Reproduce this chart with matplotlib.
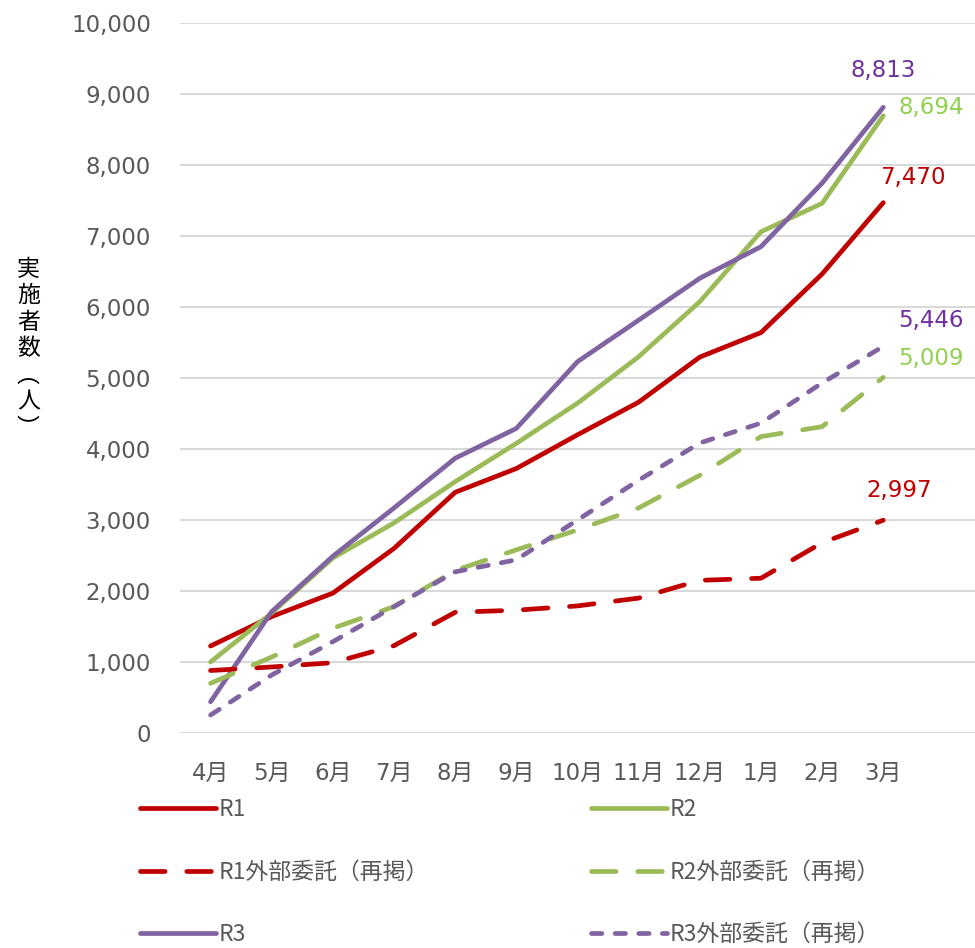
import matplotlib
matplotlib.use("Agg")
import matplotlib.pyplot as plt
from matplotlib.ticker import FuncFormatter

plt.rcParams['font.family'] = ['DejaVu Sans', 'Noto Sans CJK JP']

# 月別の累計実施者数
months = ["4月", "5月", "6月", "7月", "8月", "9月", "10月", "11月", "12月", "1月", "2月", "3月"]
r1 = [1225, 1640, 1970, 2600, 3390, 3725, 4200, 4660, 5295, 5640, 6465, 7470]
r2 = [1000, 1690, 2465, 2960, 3540, 4080, 4645, 5300, 6075, 7060, 7460, 8694]
r3 = [440, 1710, 2490, 3170, 3870, 4290, 5230, 5815, 6405, 6850, 7745, 8813]
r1_ext = [880, 930, 990, 1230, 1700, 1730, 1790, 1900, 2150, 2180, 2680, 2997]
r2_ext = [700, 1070, 1475, 1780, 2290, 2580, 2860, 3170, 3630, 4175, 4315, 5009]
r3_ext = [253, 817, 1286, 1780, 2270, 2440, 3000, 3560, 4085, 4365, 4930, 5446]

RED = '#C00000'
GREEN = '#9BBB59'
PURPLE = '#8064A2'

fig = plt.figure(figsize=(9.75, 9.48), dpi=100)
ax = fig.add_axes([0.1846, 0.2268, 1 - 0.1846, 0.9757 - 0.2268])

x = list(range(len(months)))
lw = 3.4
h_r1, = ax.plot(x, r1, color=RED, lw=lw, solid_capstyle='round', label='R1')
h_r2, = ax.plot(x, r2, color=GREEN, lw=lw, solid_capstyle='round', label='R2')
h_r3, = ax.plot(x, r3, color=PURPLE, lw=lw, solid_capstyle='round', label='R3')
h_r1e, = ax.plot(x, r1_ext, color=RED, lw=lw, dashes=(5.2, 4.6), dash_capstyle='round',
                 label='R1外部委託（再掲）')
h_r2e, = ax.plot(x, r2_ext, color=GREEN, lw=lw, dashes=(5.2, 4.6), dash_capstyle='round',
                 label='R2外部委託（再掲）')
h_r3e, = ax.plot(x, r3_ext, color=PURPLE, lw=lw, dashes=(2.2, 2.8), dash_capstyle='round',
                 label='R3外部委託（再掲）')

# end-of-line data labels
last = len(months) - 1
labels = [
    (r3, '#7030A0', (0, 37)),
    (r2, '#92D050', (48, 8)),
    (r1, RED, (30, 25)),
    (r3_ext, '#7030A0', (48, 26)),
    (r2_ext, '#92D050', (48, 19)),
    (r1_ext, RED, (16, 30)),
]
for series, col, off in labels:
    ax.annotate(f"{series[last]:,}", (last, series[last]), xytext=off,
                textcoords='offset pixels', ha='center', va='center',
                color=col, fontsize=16.5)

ax.set_xlim(-0.5, 12.5)
ax.set_ylim(0, 10000)
ax.set_yticks(range(0, 10001, 1000))
ax.yaxis.set_major_formatter(FuncFormatter(lambda v, p: f"{int(v):,}"))
ax.set_xticks(x)
ax.set_xticklabels(months)
ax.tick_params(axis='both', length=0, labelsize=16.5, labelcolor='#595959')
ax.tick_params(axis='y', pad=21)
ax.tick_params(axis='x', pad=21)
ax.grid(axis='y', color='#D9D9D9', lw=1.5)
ax.set_axisbelow(True)
for s in ax.spines.values():
    s.set_visible(False)

# vertical axis title, stacked characters
fig.text(0.029, 0.632, "\n".join("実施者数︵人︶"), ha='center', va='center',
         fontsize=16.5, linespacing=1.2, family=['Noto Sans CJK JP', 'DejaVu Sans'])

leg = fig.legend(handles=[h_r1, h_r1e, h_r3, h_r2, h_r2e, h_r3e], ncol=2,
                 loc='upper left', bbox_to_anchor=(0.1436, 0.158), frameon=False,
                 handlelength=3.3, handletextpad=0.15,
                 columnspacing=7.05, labelspacing=1.72, borderpad=0, borderaxespad=0,
                 prop={'family': ['Noto Sans CJK JP', 'DejaVu Sans'], 'size': 16.5})
for t in leg.get_texts():
    t.set_color('#595959')

fig.savefig("out.png", dpi=100)
